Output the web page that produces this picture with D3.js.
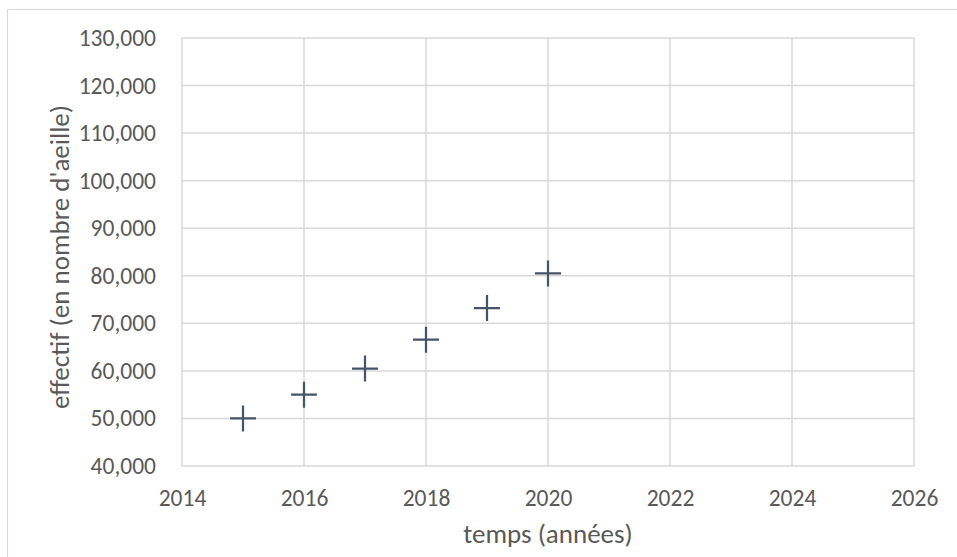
<!DOCTYPE html>
<html>
<head>
<meta charset="utf-8">
<script src="https://cdn.jsdelivr.net/npm/d3@7"></script>
<style>
  body { margin: 0; background: #fff; }
  svg { display: block; font-family: Carlito, Calibri, Lato, sans-serif; }
</style>
</head>
<body>
<div id="target"></div>
<script>
// data
let years = [2015, 2016, 2017, 2018, 2019, 2020]
let effectif = [50000, 55000, 60500, 66550, 73200, 80500]
let xTicks = [2014, 2016, 2018, 2020, 2022, 2024, 2026]
let yTicks = [40000, 50000, 60000, 70000, 80000, 90000, 100000, 110000, 120000, 130000]
let xTitle = "temps (années)"
let yTitle = "effectif (en nombre d'aeille)"

let width = 957, height = 557
let margin = { left: 182, top: 38, right: 957 - 914, bottom: 557 - 466 }
let textColor = "#595959"
let gridColor = "#d9d9d9"

let svg = d3.select("#target").append("svg")
    .attr("width", width)
    .attr("height", height)

// chart frame
svg.append("rect")
    .attr("x", 7.5).attr("y", 9.5)
    .attr("width", width).attr("height", height)
    .attr("fill", "none")
    .attr("stroke", gridColor)
    .attr("stroke-width", 1.2)

let x = d3.scaleLinear().domain([2014, 2026]).range([margin.left, width - margin.right])
let y = d3.scaleLinear().domain([40000, 130000]).range([height - margin.bottom, margin.top])

// grid
svg.append("g").selectAll("line").data(yTicks).enter().append("line")
    .attr("x1", x(2014)).attr("x2", x(2026))
    .attr("y1", d => y(d)).attr("y2", d => y(d))
    .attr("stroke", gridColor).attr("stroke-width", 1.5)
svg.append("g").selectAll("line").data(xTicks).enter().append("line")
    .attr("x1", d => x(d)).attr("x2", d => x(d))
    .attr("y1", y(40000)).attr("y2", y(130000))
    .attr("stroke", gridColor).attr("stroke-width", 1.5)

// axes (labels only, excel style)
let fmt = d3.format(",")
let xAxis = svg.append("g")
    .attr("transform", `translate(0,${y(40000) + 20})`)
    .call(d3.axisBottom(x).tickValues(xTicks).tickFormat(d3.format("d")).tickSize(0))
let yAxis = svg.append("g")
    .attr("transform", `translate(${x(2014) - 23},0)`)
    .call(d3.axisLeft(y).tickValues(yTicks).tickFormat(fmt).tickSize(0))
for (let ax of [xAxis, yAxis]) {
    ax.select(".domain").remove()
    ax.selectAll("text")
        .attr("fill", textColor)
        .style("font-size", "23.5px")
        .style("font-family", "Carlito, Calibri, Lato, sans-serif")
}

// markers: plus signs
let s = 13
let pts = svg.append("g").selectAll("path").data(years).enter().append("path")
    .attr("d", (d, i) => {
        let cx = x(d), cy = y(effectif[i])
        return `M${cx - s},${cy}H${cx + s}M${cx},${cy - s}V${cy + s}`
    })
    .attr("fill", "none")
    .attr("stroke", "#44546a")
    .attr("stroke-width", 2.25)

// titles
svg.append("text")
    .attr("x", (x(2014) + x(2026)) / 2)
    .attr("y", 543)
    .attr("text-anchor", "middle")
    .attr("fill", textColor)
    .style("font-size", "27px")
    .text(xTitle)

svg.append("text")
    .attr("transform", `translate(69,257) rotate(-90)`)
    .attr("text-anchor", "middle")
    .attr("fill", textColor)
    .style("font-size", "27px")
    .text(yTitle)
</script>
</body>
</html>
